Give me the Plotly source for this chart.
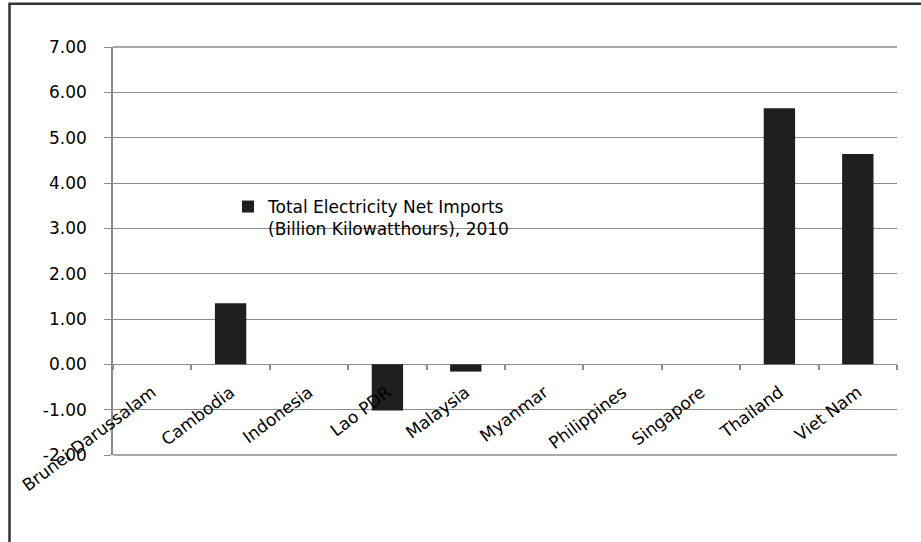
import plotly.graph_objects as go

# Net electricity imports by ASEAN member, 2010 (billion kWh)
countries = ["Brunei Darussalam", "Cambodia", "Indonesia", "Lao PDR", "Malaysia",
             "Myanmar", "Philippines", "Singapore", "Thailand", "Viet Nam"]
net_imports = [0.0, 1.35, 0.0, -1.02, -0.16, 0.0, 0.0, 0.0, 5.65, 4.64]
series_name = "Total Electricity Net Imports<br>(Billion Kilowatthours), 2010"
y_ticks = [-2, -1, 0, 1, 2, 3, 4, 5, 6, 7]

y_min, y_max = -2, 7
W, H = 921, 542
ML, MR, MT, MB = 113, 24, 47, 87
plot_w = W - ML - MR
plot_h = H - MT - MB


def px_x(px):
    return (px - ML) / plot_w


def px_y(py):
    return (H - MB - py) / plot_h


FONT = "DejaVu Sans"
GRID = "#8c8c8c"

fig = go.Figure()
fig.add_trace(go.Bar(
    x=countries,
    y=net_imports,
    name=series_name,
    width=0.4,
    marker=dict(color="#1f1f1f", line=dict(width=0)),
    showlegend=True,
))

# gridlines along the top and bottom edges of the plot area
edge_lines = [
    dict(type="line", xref="paper", yref="paper", x0=0, x1=1, y0=v, y1=v,
         line=dict(color=GRID, width=1.3), layer="between")
    for v in (0, 1)
]

fig.update_layout(
    width=W,
    height=H,
    margin=dict(l=ML, r=MR, t=MT, b=MB, autoexpand=False),
    paper_bgcolor="white",
    plot_bgcolor="white",
    font=dict(family=FONT, color="black", size=15),
    xaxis=dict(
        type="category",
        range=[-0.5, len(countries) - 0.5],
        anchor="free",
        position=(0 - y_min) / (y_max - y_min),
        showgrid=False,
        showline=False,
        zeroline=False,
        ticks="outside",
        tickson="boundaries",
        ticklen=5,
        tickcolor=GRID,
        tickwidth=1.5,
        tickangle=-37,
        tickfont=dict(family=FONT, size=17, color="black"),
        ticklabelstandoff=14,
        automargin=False,
    ),
    yaxis=dict(
        range=[y_min, y_max],
        tickmode="array",
        tickvals=y_ticks,
        ticktext=["%.2f" % v for v in y_ticks],
        showgrid=True,
        gridcolor=GRID,
        gridwidth=1.3,
        zeroline=True,
        zerolinecolor=GRID,
        zerolinewidth=1.3,
        showline=True,
        linecolor=GRID,
        linewidth=1.6,
        ticks="outside",
        ticklen=7,
        tickcolor=GRID,
        tickwidth=1.3,
        tickfont=dict(family=FONT, size=17, color="black"),
        ticklabelstandoff=14,
        automargin=False,
    ),
    legend=dict(
        x=px_x(228),
        y=px_y(189),
        xanchor="left",
        yanchor="top",
        bgcolor="rgba(0,0,0,0)",
        borderwidth=0,
        valign="top",
        font=dict(family=FONT, size=17, color="black"),
    ),
    shapes=edge_lines + [
        # white panel behind the legend, interrupting the gridlines
        dict(type="rect", xref="paper", yref="paper",
             x0=px_x(222), x1=px_x(561), y0=px_y(240), y1=px_y(176),
             fillcolor="white", line=dict(width=0), layer="between"),
        # outer chart frame
        dict(type="rect", xref="paper", yref="paper",
             x0=px_x(9.5), x1=px_x(935), y0=px_y(560), y1=px_y(3.8),
             fillcolor="rgba(0,0,0,0)", line=dict(color="#333333", width=2.5),
             layer="above"),
    ],
)

fig.write_html("out.html")
